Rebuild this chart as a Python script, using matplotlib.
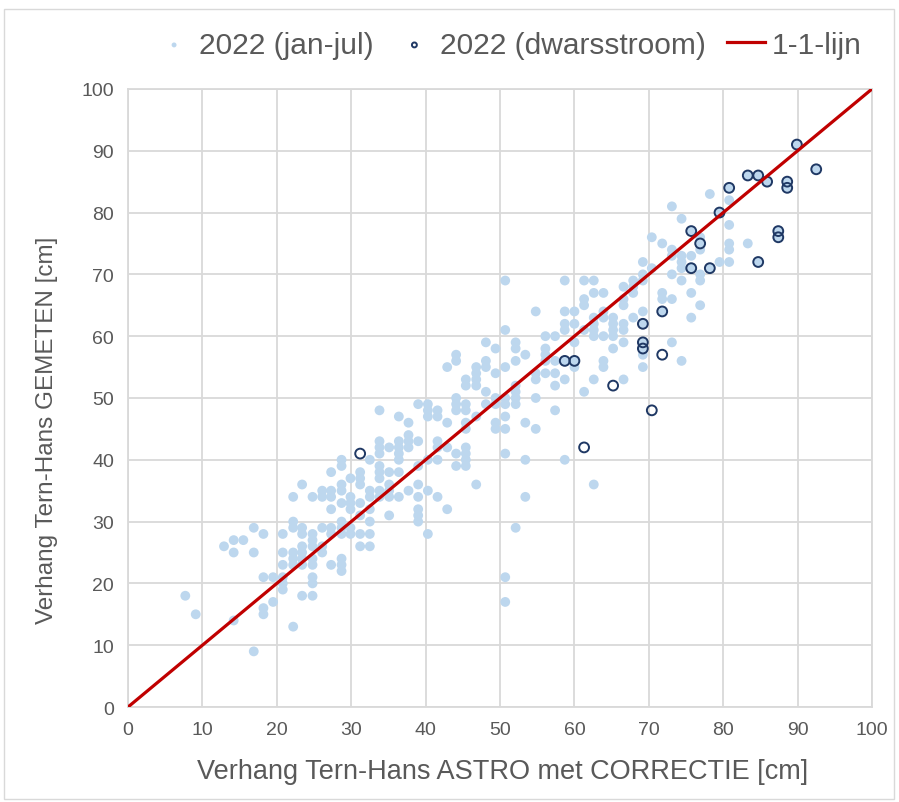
import matplotlib
matplotlib.use("Agg")
import matplotlib.pyplot as plt
from matplotlib.patches import Rectangle

plt.rcParams['font.family'] = ['Liberation Sans', 'DejaVu Sans']

# 2022 (jan-jul): one x column per line, y values
jan_x = (
    [7.7] + [9.1] + [12.9] + [14.2] * 3 + [15.5] + [16.9] * 3 + [18.2] * 4 + [19.5] * 2
)
jan_y = (
    [18] + [15] + [26] + [27, 25, 14] + [27] + [29, 25, 9] + [28, 21, 16, 15] + [21, 17]
)
cols = [
    (20.8, [28, 25, 23, 21, 20, 19]),
    (22.2, [34, 30, 29, 25, 24, 23, 13]),
    (23.4, [36, 29, 28, 26, 25, 24, 23, 18]),
    (24.8, [34, 28, 27, 26, 24, 23, 21, 20, 18]),
    (26.1, [35, 34, 29, 26, 25]),
    (27.3, [38, 35, 34, 32, 29, 28, 23]),
    (28.7, [40, 39, 36, 35, 33, 30, 29, 28, 24, 23, 22]),
    (29.9, [37, 34, 33, 32, 29, 28]),
    (31.2, [38, 37, 36, 33, 31, 28, 26]),
    (32.5, [40, 35, 34, 32, 30, 28, 26]),
    (33.8, [48, 43, 42, 41, 39, 38, 37, 35, 34]),
    (35.1, [42, 38, 36, 35, 34, 31]),
    (36.4, [47, 43, 42, 41, 40, 38, 34]),
    (37.7, [46, 44, 43, 42, 35]),
    (39.0, [49, 43, 39, 36, 34, 32, 31, 30]),
    (40.3, [49, 48, 47, 40, 35, 28]),
    (41.6, [48, 47, 43, 42, 40, 34]),
    (42.9, [55, 46, 42, 32]),
    (44.1, [57, 56, 50, 49, 48, 41, 39]),
    (45.4, [53, 52, 49, 48, 46, 45, 42, 41, 40, 39]),
    (46.8, [55, 54, 53, 52, 47, 36]),
    (48.1, [59, 56, 55, 51, 49]),
    (49.4, [58, 54, 50, 49, 46, 45]),
    (50.7, [69, 61, 55, 50, 49, 47, 45, 41, 21, 17]),
    (52.1, [59, 58, 56, 52, 51, 50, 49, 29]),
    (53.4, [57, 46, 40, 34]),
    (54.8, [64, 54, 53, 50, 45]),
    (56.1, [60, 58, 57, 56, 54]),
    (57.4, [60, 56, 54, 52, 48]),
    (58.7, [69, 64, 62, 61, 56, 53, 40]),
    (60.0, [64, 62, 59, 56, 55]),
    (61.3, [69, 66, 65, 61, 51]),
    (62.6, [69, 67, 63, 62, 61, 60, 53, 36]),
    (63.9, [67, 64, 63, 60, 56, 55]),
    (65.2, [63, 62, 61, 60, 58]),
    (66.6, [68, 66, 65, 62, 61, 59, 53]),
    (67.9, [69, 68, 67, 63]),
    (69.2, [72, 70, 69, 64, 62, 59, 58, 57, 55]),
    (70.4, [76, 71]),
    (71.8, [75, 67, 66, 64]),
    (73.1, [81, 74, 73, 70, 66, 59]),
    (74.4, [79, 73, 72, 71, 69, 56]),
    (75.7, [77, 73, 71, 67, 63]),
    (76.9, [76, 75, 74, 70, 69, 65]),
    (78.2, [83, 71]),
    (79.5, [80, 72]),
    (80.8, [84, 82, 78, 75, 74, 72]),
    (83.3, [86, 75]),
    (84.7, [86, 72]),
    (85.9, [85]),
    (87.4, [77, 76]),
    (88.6, [85, 84]),
    (89.9, [91]),
    (92.5, [87]),
]
for cx, ys in cols:
    jan_x += [cx] * len(ys)
    jan_y += ys

# 2022 (dwarsstroom)
dw_x = [31.2, 58.7, 60.0, 61.3, 65.2, 69.2, 69.2, 69.2, 70.4, 71.8, 71.8,
        75.7, 75.7, 76.9, 78.2, 79.5, 80.8, 83.3, 84.7, 84.7, 85.9, 87.4,
        87.4, 88.6, 88.6, 89.9, 92.5]
dw_y = [41, 56, 56, 42, 52, 62, 59, 58, 48, 64, 57,
        77, 71, 75, 71, 80, 84, 86, 86, 72, 85, 77,
        76, 85, 84, 91, 87]

line_x = [0, 100]
line_y = [0, 100]

fig = plt.figure(figsize=(8.99, 8.03), dpi=100)
ax = fig.add_axes([0.1424, 0.1183, 0.8276, 0.7697])

fig.patches.append(Rectangle((4 / 899, 3 / 803), 890 / 899, 790 / 803,
                             transform=fig.transFigure, fill=False,
                             edgecolor='#d9d9d9', linewidth=1))

ax.scatter(jan_x, jan_y, s=50, color='#bdd7ee', edgecolors='none', zorder=3,
           label='2022 (jan-jul)')
ax.scatter(dw_x, dw_y, s=50, facecolors='none', edgecolors='#1f3864',
           linewidths=1.4, zorder=4, label='2022 (dwarsstroom)')
ax.plot(line_x, line_y, color='#c00000', linewidth=2.3, zorder=5, label='1-1-lijn')

ax.set_xlim(0, 100)
ax.set_ylim(0, 100)
ax.set_xticks(range(0, 101, 10))
ax.set_yticks(range(0, 101, 10))
ax.grid(True, color='#d9d9d9', linewidth=1.3, zorder=0)
ax.set_axisbelow(True)
for sp in ax.spines.values():
    sp.set_color('#d9d9d9')
    sp.set_linewidth(1.3)
ax.tick_params(length=0, labelsize=14, colors='#595959', pad=10)

ax.set_xlabel('Verhang Tern-Hans ASTRO met CORRECTIE [cm]', fontsize=19.5,
              color='#595959')
ax.set_ylabel('Verhang Tern-Hans GEMETEN [cm]', fontsize=17.5,
              color='#595959')
ax.xaxis.set_label_coords(0.503, -0.082)
ax.yaxis.set_label_coords(-0.094, 0.45)

leg = fig.legend(loc='center', bbox_to_anchor=(0.565, 0.943), ncol=3,
                 frameon=False, fontsize=21.5, markerscale=0.5,
                 handlelength=1.3, handletextpad=0.2, columnspacing=0.7)
for t in leg.get_texts():
    t.set_color('#595959')

fig.savefig('out.png', dpi=100)
